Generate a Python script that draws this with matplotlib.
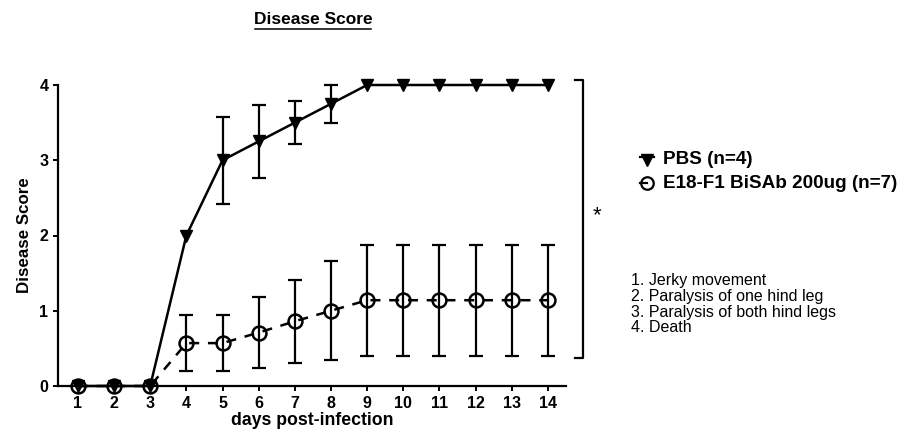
import matplotlib.pyplot as plt
from matplotlib.lines import Line2D

plt.rcParams['font.family'] = ['Liberation Sans', 'DejaVu Sans']

# data (mean +/- SEM)
days = list(range(1, 15))
pbs_mean = [0, 0, 0, 2, 3, 3.25, 3.5, 3.75, 4, 4, 4, 4, 4, 4]
pbs_sem = [0, 0, 0, 0, 0.58, 0.48, 0.29, 0.25, 0, 0, 0, 0, 0, 0]
bisab_mean = [0, 0, 0, 0.57, 0.57, 0.71, 0.86, 1.0, 1.14, 1.14, 1.14, 1.14, 1.14, 1.14]
bisab_sem = [0, 0, 0, 0.37, 0.37, 0.47, 0.55, 0.66, 0.74, 0.74, 0.74, 0.74, 0.74, 0.74]
groups = ['PBS (n=4)', 'E18-F1 BiSAb 200ug (n=7)']
notes = ["1. Jerky movement", "2. Paralysis of one hind leg",
         "3. Paralysis of both hind legs", "4. Death"]

W, H = 901, 429
fig = plt.figure(figsize=(W / 100, H / 100), dpi=100)
ax = fig.add_axes([58 / W, 1 - 386 / H, 508 / W, 301 / H])

def err_bars(x, m, s):
    pts = [(a, b, c) for a, b, c in zip(x, m, s) if c > 0]
    ax.errorbar([p[0] for p in pts], [p[1] for p in pts], yerr=[p[2] for p in pts],
                fmt='none', ecolor='black', elinewidth=1.6, capsize=5,
                capthick=1.6, clip_on=False, zorder=2)

err_bars(days, bisab_mean, bisab_sem)
err_bars(days, pbs_mean, pbs_sem)

ax.plot(days, bisab_mean, color='black', lw=1.8, ls=(0, (4, 3.5)), marker='o',
        ms=10, mfc='none', mec='black', mew=1.8, clip_on=False, zorder=3)
ax.plot(days, pbs_mean, color='black', lw=1.8, ls='-', marker='v',
        ms=9, mfc='black', mec='black', clip_on=False, zorder=4)

ax.set_xlim(0.45, 14.5)
ax.set_ylim(0, 4)
ax.set_xticks(days)
ax.set_yticks([0, 1, 2, 3, 4])
for s in ['top', 'right']:
    ax.spines[s].set_visible(False)
for s in ['left', 'bottom']:
    ax.spines[s].set_linewidth(1.6)
ax.tick_params(direction='out', length=3.5, width=1.4, labelsize=11.5, pad=3.5)
for lab in ax.get_xticklabels() + ax.get_yticklabels():
    lab.set_fontweight('bold')
ax.set_xlabel('days post-infection', fontsize=12.7, fontweight='bold')
ax.xaxis.set_label_coords(0.5, -0.088)
ax.set_ylabel('Disease Score', fontsize=12.2, fontweight='bold', labelpad=5)

# significance bracket
ax.plot([14.75, 14.97, 14.97, 14.75], [4.06, 4.06, 0.37, 0.37], color='black',
        lw=1.6, clip_on=False)
fig.text(597 / W, 1 - 216 / H, '*', fontsize=16, ha='center', va='center')

# title with underline
t = fig.text(313 / W, 1 - 19 / H, 'Disease Score', fontsize=12.5, fontweight='bold',
             ha='center', va='center')
fig.canvas.draw()
bb = t.get_window_extent().transformed(fig.transFigure.inverted())
fig.add_artist(Line2D([bb.x0 + 0.001, bb.x1 - 0.001], [1 - 29 / H, 1 - 29 / H],
                      color='black', lw=1.1))

# legend drawn by hand
for i, (lab, mk) in enumerate(zip(groups, ['v', 'o'])):
    yy = 1 - (160 + 23 * i) / H
    if mk == 'v':
        fig.add_artist(Line2D([640 / W, 654 / W], [yy + 0.008, yy + 0.008],
                              color='black', lw=1.6))
        fig.add_artist(Line2D([647 / W], [yy], marker='v', ms=8, color='black'))
    else:
        fig.add_artist(Line2D([640 / W, 647 / W], [yy, yy], color='black', lw=1.6))
        fig.add_artist(Line2D([647 / W], [yy], marker='o', ms=9, mfc='none',
                              mec='black', mew=1.6))
    fig.text(663 / W, yy, lab, fontsize=13.6, fontweight='bold', va='center', ha='left')

for i, line in enumerate(notes):
    fig.text(631 / W, 1 - (280 + 16 * i) / H, line, fontsize=11.5, va='center', ha='left')

plt.savefig('out.png', dpi=100)
